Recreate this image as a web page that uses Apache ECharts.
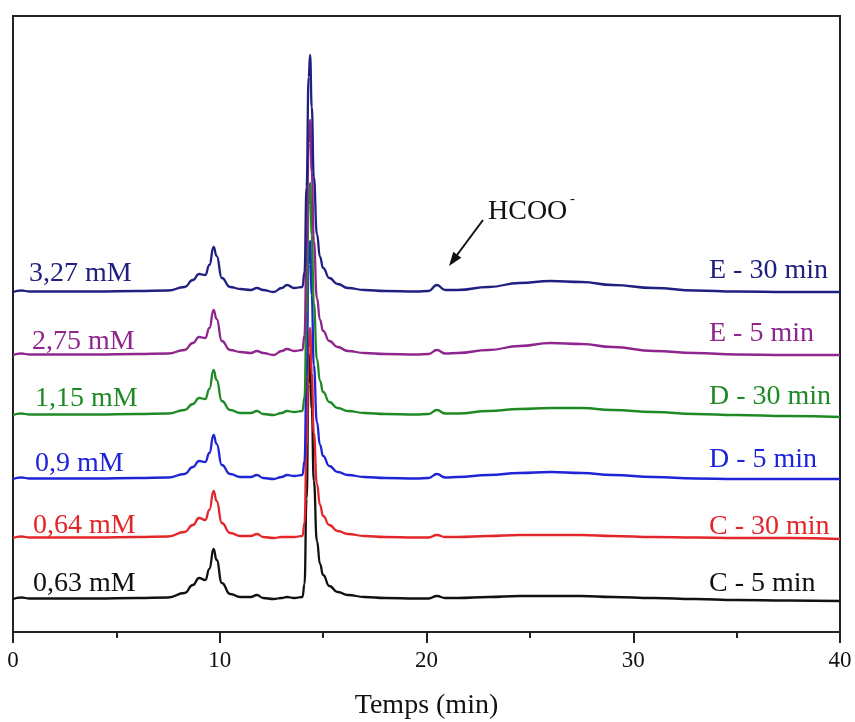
<!DOCTYPE html>
<html>
<head>
<meta charset="utf-8">
<script src="https://cdn.jsdelivr.net/npm/echarts@6/dist/echarts.min.js"></script>
<style>
  html, body { margin: 0; padding: 0; background: #fff; }
  #chart { width: 855px; height: 722px; }
</style>
</head>
<body>
<div id="chart"></div>
<script>
// retention time grid (min)
const times = [0, 0.4, 0.8, 2, 4, 6, 7.5, 8.3, 8.7, 9.0, 9.3, 9.5, 9.7, 9.85, 10.1, 10.5, 11.0, 11.5, 11.8, 12.1,
  12.6, 13.0, 13.25, 13.6, 14.0, 14.1, 14.2, 14.3, 14.37, 14.45, 14.55, 14.7, 14.85, 15.0, 15.3, 15.7, 16.2, 17, 18, 19.5,
  20.1, 20.5, 20.9, 21.5, 23, 24.5, 26, 27.5, 29, 31, 33, 35, 37.5, 40]

// signal above each trace's own baseline
const sigE30 = [0, 1.5, 0.5, 0.5, 0.5, 1, 1.5, 5, 12, 18, 17, 27, 45, 36, 14, 5, 3, 2, 4, 2,
  0, 4, 7, 4, 5, 20, 105, 215, 237, 185, 115, 58, 35, 24, 14, 8, 4, 2, 1, 0.5,
  1, 7, 2, 2, 5, 9, 11, 10, 7, 4, 1.5, 0.5, 0, 0]
const sigE5 = [0, 1.5, 0.5, 0.5, 0.5, 1, 1.5, 5, 12, 18, 17, 27, 45, 36, 14, 5, 3, 2, 4, 2,
  0, 4, 6, 4, 5, 20, 104, 212, 235, 183, 114, 57, 35, 24, 14, 8, 4, 2, 1, 0.5,
  1, 5, 1.5, 2, 5, 9, 12, 11, 8, 4, 2, 0.5, 0, 0]
const sigD30 = [0, 1.5, 0.5, 0.5, 0.5, 1, 1.5, 5, 11, 17, 16, 26, 45, 35, 14, 5, 2, 2, 4, 1,
  0, 2, 4, 3, 4, 18, 100, 210, 232, 180, 112, 56, 34, 23, 13, 7, 4, 2, 1, 0.5,
  1, 5, 1.5, 1.5, 4, 6, 7, 7, 5, 3, 1, 0, -1, -2]
const sigD5 = [0, 1.5, 0.5, 0.5, 0.5, 1, 1.5, 5, 12, 18, 17, 26, 44, 35, 14, 5, 2, 2, 4, 1,
  0, 2, 4, 3, 4, 18, 102, 215, 238, 184, 114, 57, 34, 23, 13, 7, 4, 2, 1, 0.5,
  1, 5, 1.5, 2, 4, 6, 7, 6, 4, 2, 0.5, 0, 0, 0]
const sigC30 = [0, 1.5, 0.5, 0.5, 0.5, 1, 1.5, 6, 13, 20, 18, 28, 47, 37, 15, 5, 2, 2, 4, 1,
  0, 1, 1, 1, 2, 15, 90, 190, 210, 165, 105, 54, 33, 22, 13, 7, 4, 2, 1, 0.5,
  0.5, 3, 1, 1, 2, 3, 3, 3, 2, 1, 0.5, 0, 0, -1]
const sigC5 = [0, 1.5, 0.5, 0.5, 0.5, 1, 1.5, 6, 14, 21, 19, 30, 50, 39, 16, 5, 2, 2, 4, 1,
  0, 1, 2, 1, 2, 15, 100, 215, 245, 190, 118, 58, 35, 24, 13, 7, 4, 2, 1, 0.5,
  0.5, 3, 1, 1, 2, 3, 3, 3, 2, 1, 0, -1, -1.5, -2]

// stacking offsets of each chromatogram
const offsets = [33, 94, 153, 217, 277, 340]
const samples = ['C - 5 min', 'C - 30 min', 'D - 5 min', 'D - 30 min', 'E - 5 min', 'E - 30 min']
const concentrations = ['0,63 mM', '0,64 mM', '0,9 mM', '1,15 mM', '2,75 mM', '3,27 mM']
const signals = [sigC5, sigC30, sigD5, sigD30, sigE5, sigE30]
const xTicks = [0, 10, 20, 30, 40]

const colors = ['#111111', '#e3262a', '#1f24d6', '#1f8a24', '#8e268e', '#202080']
const serif = "'Liberation Serif', 'Times New Roman', serif"

// label placement (pixels)
const leftLabelX = [33, 33, 35, 35, 32, 29]
const leftLabelY = [585, 527, 465, 400, 343, 275]
const rightLabelY = [585, 528, 461, 398, 335, 272]

const chart = echarts.init(document.getElementById('chart'))

const series = signals.map((sig, i) => ({
  name: samples[i],
  type: 'line',
  data: times.map((t, k) => [t, sig[k] + offsets[i]]),
  showSymbol: false,
  smooth: 0.5,
  smoothMonotone: 'x',
  lineStyle: { color: colors[i], width: 2.3 },
  itemStyle: { color: colors[i] },
  silent: true,
  animation: false
}))

const graphic = []
samples.forEach((s, i) => {
  graphic.push({
    type: 'text', left: leftLabelX[i], top: leftLabelY[i] - 15,
    style: { text: concentrations[i], fill: colors[i], font: '28px ' + serif }
  })
  graphic.push({
    type: 'text', left: 709, top: rightLabelY[i] - 15,
    style: { text: s, fill: colors[i], font: '28px ' + serif }
  })
})
// HCOO- annotation with arrow
graphic.push({
  type: 'text', left: 488, top: 198,
  style: { text: 'HCOO', fill: '#111', font: '28px ' + serif }
})
graphic.push({
  type: 'text', left: 570, top: 192,
  style: { text: '-', fill: '#111', font: '15px ' + serif }
})
graphic.push({
  type: 'line',
  shape: { x1: 483, y1: 220, x2: 457, y2: 255 },
  style: { stroke: '#111', lineWidth: 2 }
})
graphic.push({
  type: 'polygon',
  shape: { points: [[449, 266], [461.3, 257.7], [453.3, 251.7]] },
  style: { fill: '#111' }
})

chart.setOption({
  animation: false,
  grid: {
    left: 13, right: 15, top: 16, bottom: 90,
    outerBoundsMode: 'none',
    show: true, borderColor: '#222', borderWidth: 2
  },
  xAxis: {
    type: 'value',
    min: xTicks[0],
    max: xTicks[xTicks.length - 1],
    interval: 10,
    name: 'Temps (min)',
    nameLocation: 'middle',
    nameGap: 60,
    nameTextStyle: { fontFamily: serif, fontSize: 28, color: '#111' },
    axisLine: { lineStyle: { color: '#222', width: 2 } },
    axisTick: { inside: false, length: 11, lineStyle: { color: '#222', width: 2 } },
    minorTick: { show: true, splitNumber: 2, length: 6, lineStyle: { color: '#222', width: 2 } },
    axisLabel: { fontFamily: serif, fontSize: 23, color: '#111', margin: 17 },
    splitLine: { show: false }
  },
  yAxis: {
    type: 'value',
    min: 0,
    max: 616,
    axisLine: { show: true, lineStyle: { color: '#222', width: 2 } },
    axisTick: { show: false },
    axisLabel: { show: false },
    splitLine: { show: false }
  },
  series: series,
  graphic: graphic
})
</script>
</body>
</html>
